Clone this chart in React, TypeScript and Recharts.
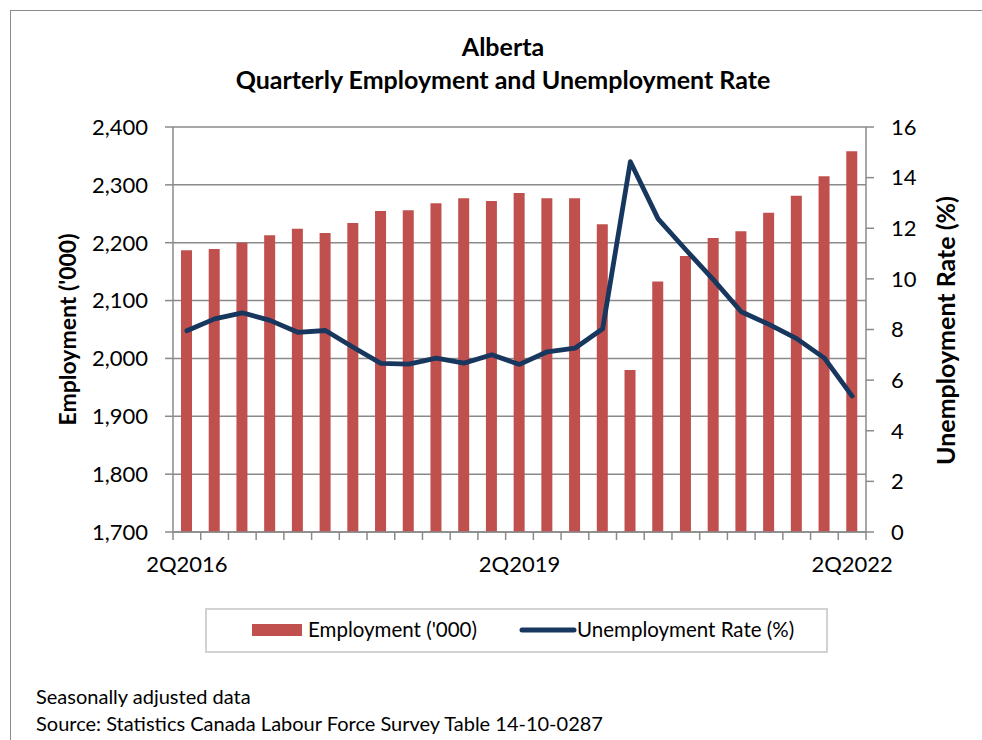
import React from 'react';
import { ComposedChart, Bar, Line, XAxis, YAxis, CartesianGrid, Legend } from 'recharts';

const quarters = [
  '2Q2016', '3Q2016', '4Q2016',
  '1Q2017', '2Q2017', '3Q2017', '4Q2017',
  '1Q2018', '2Q2018', '3Q2018', '4Q2018',
  '1Q2019', '2Q2019', '3Q2019', '4Q2019',
  '1Q2020', '2Q2020', '3Q2020', '4Q2020',
  '1Q2021', '2Q2021', '3Q2021', '4Q2021',
  '1Q2022', '2Q2022',
];

const employment = [
  2187, 2189, 2200, 2213, 2224, 2217, 2234, 2255, 2256, 2268, 2277, 2272, 2286,
  2277, 2277, 2232, 1980, 2133, 2177, 2208, 2220, 2252, 2281, 2315, 2358,
];

const unemploymentRate = [
  7.95, 8.42, 8.66, 8.36, 7.89, 7.96, 7.3, 6.66, 6.63, 6.87, 6.67, 7.0, 6.62,
  7.12, 7.26, 8.03, 14.63, 12.37, 11.15, 9.96, 8.7, 8.2, 7.64, 6.87, 5.37,
];

const employmentTicks = [1700, 1800, 1900, 2000, 2100, 2200, 2300, 2400];
const rateTicks = [0, 2, 4, 6, 8, 10, 12, 14, 16];
const labelledQuarters = ['2Q2016', '2Q2019', '2Q2022'];

const FONT = 'Lato, "Open Sans", sans-serif';
const GRID = '#8a8a8a';
const BAR = '#C0504D';
const LINE = '#17375E';

const data = quarters.map((q, i) => ({
  i,
  quarter: q,
  employment: employment[i],
  rate: unemploymentRate[i],
}));

const boundaryTicks = quarters.map((_, i) => i - 0.5).concat([quarters.length - 0.5]);
const labelTicks = labelledQuarters.map((q) => quarters.indexOf(q));
const xTicks = [...boundaryTicks, ...labelTicks].sort((a, b) => a - b);

const XTick = (props: any) => {
  const { x, y, payload } = props;
  const v = payload.value;
  if (Number.isInteger(v)) {
    return (
      <text x={x} y={y + 24} dy="0.71em" textAnchor="middle" fontSize={22} fontFamily={FONT} fill="#000">
        {quarters[v]}
      </text>
    );
  }
  return <line x1={x} x2={x} y1={y} y2={y + 8} stroke={GRID} strokeWidth={1.5} />;
};

const renderLegend = () => (
  <div
    style={{
      position: 'relative',
      boxSizing: 'border-box',
      width: 623,
      height: 45,
      border: '2px solid #d2d2d2',
      background: '#fff',
      fontFamily: FONT,
      fontSize: 20.5,
      color: '#000',
    }}
  >
    <div style={{ position: 'absolute', left: 45, top: 14, width: 50, height: 12, background: BAR }} />
    <div style={{ position: 'absolute', left: 101, top: 6, lineHeight: '27px', whiteSpace: 'nowrap' }}>
      Employment ('000)
    </div>
    <svg style={{ position: 'absolute', left: 312, top: 15 }} width={58} height={10}>
      <line x1={3} x2={55} y1={5} y2={5} stroke={LINE} strokeWidth={5} strokeLinecap="round" />
    </svg>
    <div style={{ position: 'absolute', left: 370, top: 6, lineHeight: '27px', whiteSpace: 'nowrap' }}>
      Unemployment Rate (%)
    </div>
  </div>
);

const leftLabel = (p: any) => {
  const vb = p.viewBox;
  const cx = vb.x - 6;
  const cy = vb.y + vb.height / 2;
  return (
    <text
      x={cx}
      y={cy}
      transform={`rotate(-90, ${cx}, ${cy})`}
      textAnchor="middle"
      dominantBaseline="central"
      fontSize={23}
      fontWeight="bold"
      fontFamily={FONT}
      fill="#000"
    >
      Employment ('000)
    </text>
  );
};

const rightLabel = (p: any) => {
  const vb = p.viewBox;
  const cx = vb.x + 79;
  const cy = vb.y + vb.height / 2 + 1;
  return (
    <text
      x={cx}
      y={cy}
      transform={`rotate(-90, ${cx}, ${cy})`}
      textAnchor="middle"
      dominantBaseline="central"
      fontSize={25}
      fontWeight="bold"
      fontFamily={FONT}
      fill="#000"
    >
      Unemployment Rate (%)
    </text>
  );
};

export default function App() {
  return (
    <div
      style={{
        position: 'absolute',
        left: 0,
        top: 0,
        width: 982,
        height: 740,
        overflow: 'hidden',
        background: '#fff',
      }}
    >
      <div
        style={{
          position: 'absolute',
          left: 10,
          top: 10,
          width: 1100,
          height: 900,
          border: '1.5px solid #8a8a8a',
        }}
      />
      <div
        style={{
          position: 'absolute',
          left: 0,
          top: 30,
          width: 1006,
          textAlign: 'center',
          fontFamily: FONT,
          fontWeight: 'bold',
          fontSize: 25,
          lineHeight: '33px',
          color: '#000',
        }}
      >
        <div>Alberta</div>
        <div>Quarterly Employment and Unemployment Rate</div>
      </div>
      <div style={{ position: 'absolute', left: 0, top: 0 }}>
        <ComposedChart
          width={982}
          height={740}
          data={data}
          margin={{ top: 127, right: 56, bottom: 148, left: 73 }}
        >
          <CartesianGrid yAxisId="left" vertical={false} stroke={GRID} strokeWidth={1.5} />
          <XAxis
            dataKey="i"
            type="number"
            domain={[-0.5, quarters.length - 0.5]}
            ticks={xTicks}
            interval={0}
            tickSize={0}
            tickMargin={0}
            tickLine={false}
            tick={<XTick />}
            height={60}
            stroke={GRID}
            strokeWidth={1.5}
            allowDataOverflow
          />
          <YAxis
            yAxisId="left"
            width={100}
            domain={[1700, 2400]}
            ticks={employmentTicks}
            interval={0}
            tickFormatter={(v: number) => v.toLocaleString('en-US')}
            tickSize={8}
            tickMargin={17}
            stroke={GRID}
            strokeWidth={1.5}
            tick={{ fill: '#000', fontSize: 22, fontFamily: FONT }}
            label={{ content: leftLabel }}
            allowDataOverflow
          />
          <YAxis
            yAxisId="right"
            orientation="right"
            width={60}
            domain={[0, 16]}
            ticks={rateTicks}
            interval={0}
            tickSize={8}
            tickMargin={17}
            stroke={GRID}
            strokeWidth={1.5}
            tick={{ fill: '#000', fontSize: 22, fontFamily: FONT, textAnchor: 'start' }}
            label={{ content: rightLabel }}
            allowDataOverflow
          />
          <Bar
            yAxisId="left"
            dataKey="employment"
            name="Employment ('000)"
            fill={BAR}
            barSize={11}
            isAnimationActive={false}
          />
          <Line
            yAxisId="right"
            dataKey="rate"
            name="Unemployment Rate (%)"
            stroke={LINE}
            strokeWidth={4.8}
            strokeLinejoin="round"
            strokeLinecap="round"
            dot={false}
            activeDot={false}
            type="linear"
            isAnimationActive={false}
          />
          <Legend
            layout="horizontal"
            verticalAlign="middle"
            align="center"
            wrapperStyle={{ left: 205, top: 608, width: 623, height: 45 }}
            content={renderLegend}
          />
        </ComposedChart>
      </div>
      <div
        style={{
          position: 'absolute',
          left: 36,
          top: 683,
          fontFamily: FONT,
          fontSize: 20,
          lineHeight: '27px',
          color: '#000',
          whiteSpace: 'nowrap',
        }}
      >
        <div>Seasonally adjusted data</div>
        <div>Source: Statistics Canada Labour Force Survey Table 14-10-0287</div>
      </div>
    </div>
  );
}
